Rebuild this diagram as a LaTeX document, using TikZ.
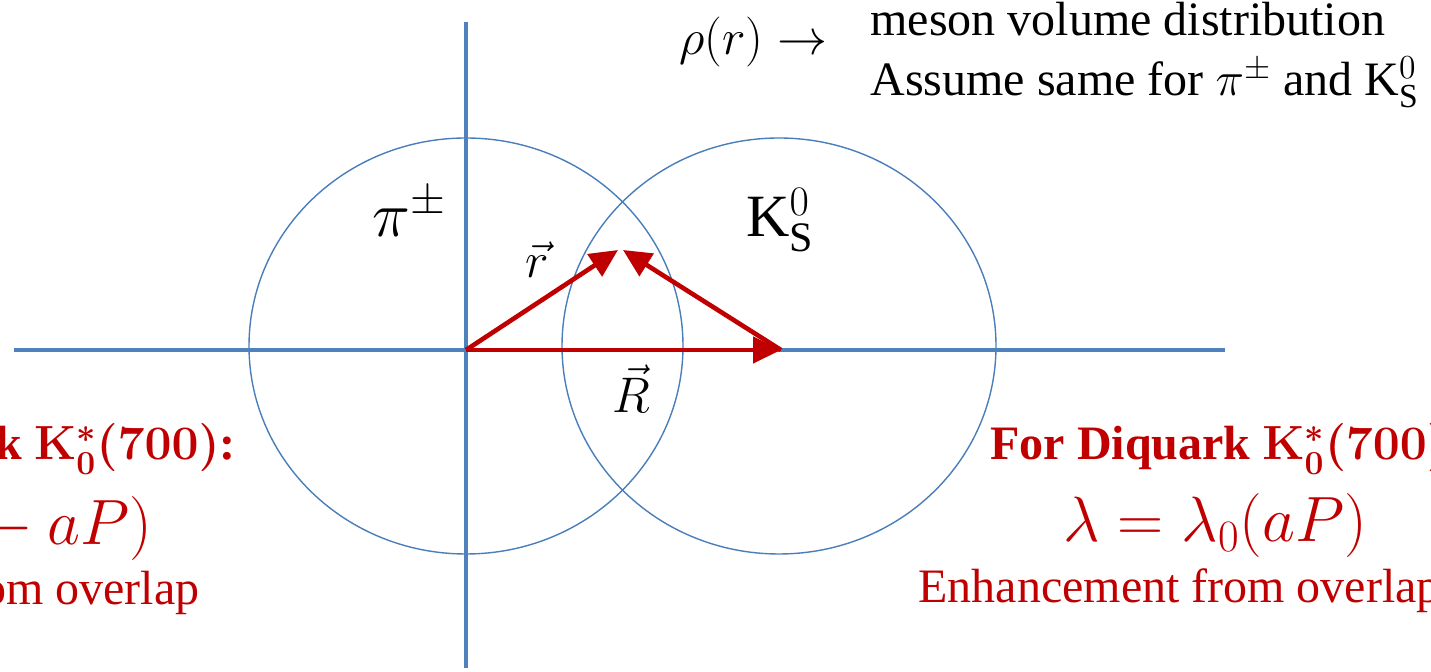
\RequirePackage{fix-cm}
\documentclass[tikz,border=0pt]{standalone}
\usepackage{fontspec}
\setmainfont{Liberation Serif}
\usetikzlibrary{arrows.meta}
\definecolor{axisblue}{HTML}{4F81BD}
\definecolor{circblue}{HTML}{4A7EBB}
\definecolor{vecred}{HTML}{C00000}
\tikzset{
  axisline/.style={draw=axisblue, line width=2.4pt},
  meson/.style={draw=circblue, line width=0.7pt},
  vecline/.style={draw=vecred, line width=2.3pt, -{Triangle[length=14pt,width=13pt]}},
  lbl/.style={inner sep=0pt, anchor=base west},
  lble/.style={inner sep=0pt, anchor=base east},
  txt/.style={font=\fontsize{24}{28}\selectfont},
  redtxt/.style={text=vecred, font=\fontsize{24}{28}\selectfont},
  redbold/.style={text=vecred, font=\fontsize{24}{28}\selectfont\bfseries\boldmath},
  redeq/.style={text=vecred, font=\fontsize{32}{36}\selectfont},
}
\begin{document}
\begin{tikzpicture}[x=0.5pt, y=-0.5pt]
\useasboundingbox (0,0) rectangle (1431,672);
\clip (0,0) rectangle (1431,672);
% coordinates
\coordinate (O) at (466,350);
\coordinate (Rt) at (781,350);
\coordinate (xl) at (14,350);
\coordinate (xr) at (1225,350);
\coordinate (yt) at (466,22);
\coordinate (yb) at (466,668);
\coordinate (c1) at (466,346);
\coordinate (c2) at (779,346);
\coordinate (tipA) at (618,250);
\coordinate (tipB) at (623,250);
% circles
\draw[meson] (c1) ellipse [x radius=108.5pt, y radius=104pt];
\draw[meson] (c2) ellipse [x radius=108.5pt, y radius=104pt];
% axes
\draw[axisline] (xl) -- (xr);
\draw[axisline] (yt) -- (yb);
% vectors
\draw[vecline] (O) -- (Rt);
\draw[vecline] (O) -- (tipA);
\draw[vecline] (Rt) -- (tipB);
% labels
\node[lbl, font=\fontsize{32}{36}\selectfont] (pi) at (372,237) {$\pi^{\pm}$};
\node[lbl, font=\fontsize{30}{34}\selectfont] (ks) at (746,237) {$\mathrm{K}_{\mathrm{S}}^{0}$};
\node[lbl, font=\fontsize{25}{28}\selectfont] (rv) at (525,278) {$\vec{r}$};
\node[lbl, font=\fontsize{25}{28}\selectfont] (Rv) at (612,413) {$\vec{R}$};
% top text
\node[lbl, font=\fontsize{25}{28}\selectfont] (rho) at (679,55) {$\rho(r)\rightarrow$};
\node[lbl, txt] (l1) at (870,36) {meson volume distribution};
\node[lbl, txt] (l2) at (870,96) {Assume same for $\pi^{\pm}$ and $\mathrm{K}_{\mathrm{S}}^{0}$};
% right red block
\node[lbl, redbold] (r1) at (990,460) {For Diquark $\mathbf{K}_{\mathbf{0}}^{*}(\mathbf{700})$:};
\node[lbl, redeq] (r2) at (1063,542) {$\lambda=\lambda_0(aP)$};
\node[lbl, redtxt] (r3) at (918,603) {Enhancement from overlap};
% left red block
\node[lble, redbold] (q1) at (236,460) {k $\mathbf{K}_{\mathbf{0}}^{*}(\mathbf{700})$:};
\node[lble, redeq] (q2) at (153,545) {${}-aP)$};
\node[lble, redtxt] (q3) at (200,605) {om overlap};
\end{tikzpicture}
\end{document}
